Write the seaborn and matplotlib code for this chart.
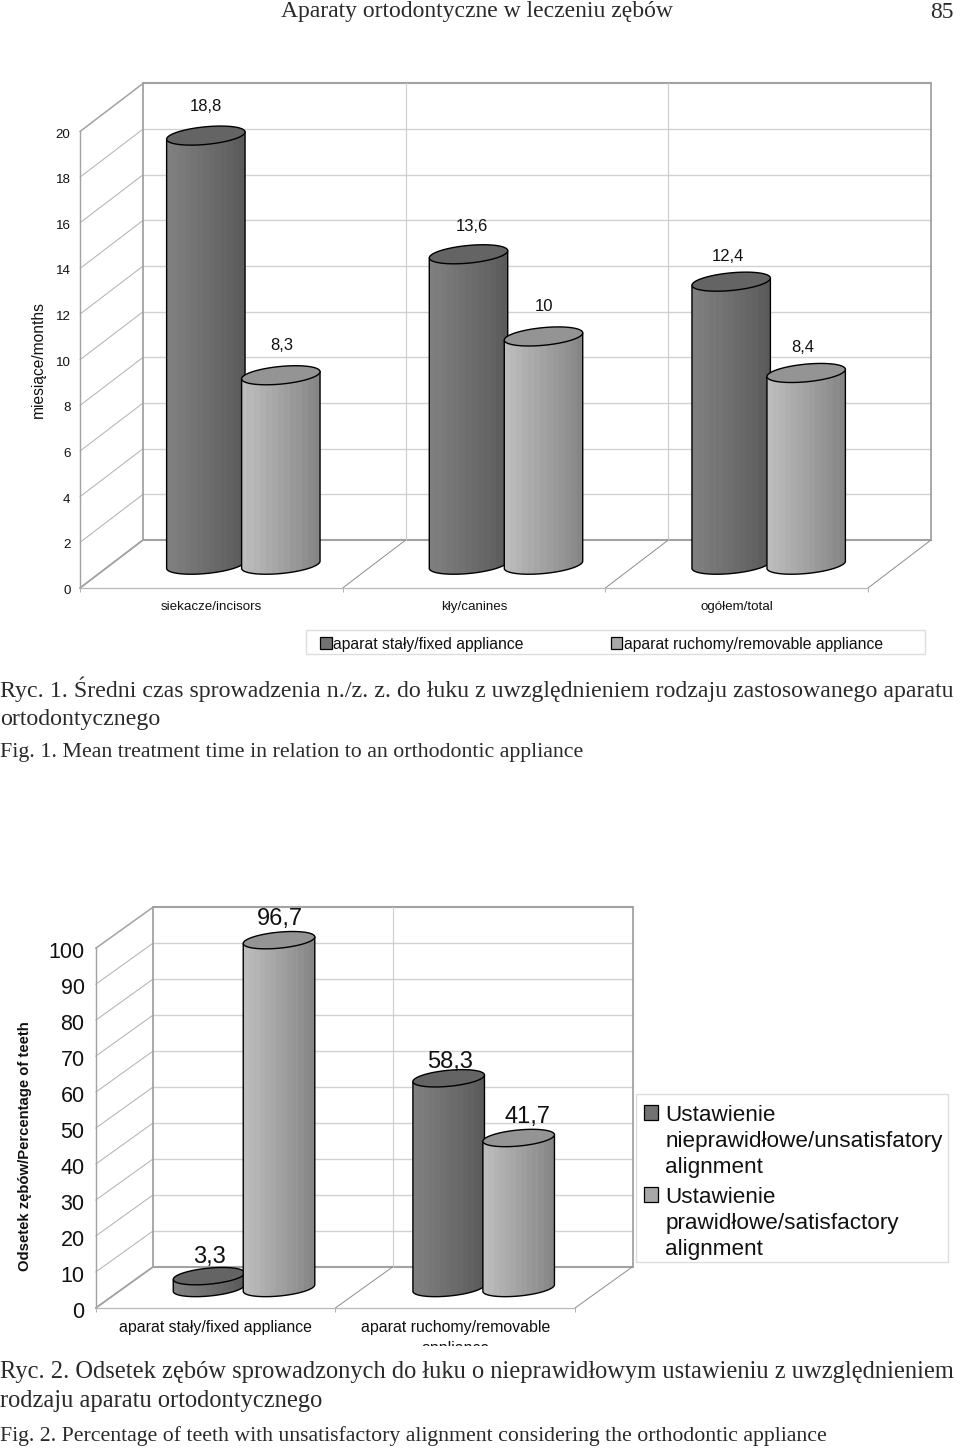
import numpy as np
import pandas as pd
import seaborn as sns
import matplotlib
matplotlib.use("Agg")
import matplotlib.pyplot as plt
from matplotlib.patches import Patch, PathPatch, Rectangle, Polygon
from matplotlib.path import Path
from matplotlib.transforms import Bbox, ScaledTranslation

# ---- data ----
categories_1 = ["siekacze/incisors", "kły/canines", "ogółem/total"]
fixed_months = [18.8, 13.6, 12.4]
removable_months = [8.3, 10, 8.4]
series_1 = ["aparat stały/fixed appliance", "aparat ruchomy/removable appliance"]
yticks_1 = list(range(0, 21, 2))

categories_2 = ["aparat stały/fixed appliance", "aparat ruchomy/removable\nappliance"]
unsatisfactory_pct = [3.3, 58.3]
satisfactory_pct = [96.7, 41.7]
series_2 = ["Ustawienie\nnieprawidłowe/unsatisfatory\nalignment",
            "Ustawienie\nprawidłowe/satisfactory\nalignment"]
yticks_2 = list(range(0, 101, 10))

W, H = 960, 1448
SANS = "Liberation Sans"
SERIF = "Liberation Serif"
DARK, LIGHT = "#727272", "#a8a8a8"

sns.set_theme(style="white", rc={"font.family": SANS})
fig = plt.figure(figsize=(W / 100, H / 100), dpi=100, facecolor="white")

page = fig.add_axes([0, 0, 1, 1], zorder=0)
page.set_xlim(0, W)
page.set_ylim(H, 0)
page.axis("off")


def px_axes(l, r, t, b, z):
    ax = fig.add_axes([l / W, 1 - b / H, (r - l) / W, (b - t) / H], zorder=z)
    ax.patch.set_alpha(0)
    return ax


def ellipse_pts(xc, yc, a, b, tilt, sx, sy, t):
    c, s = np.cos(tilt), np.sin(tilt)
    px = a * np.cos(t) * c - b * np.sin(t) * s
    py = a * np.cos(t) * s + b * np.sin(t) * c
    return np.c_[xc + px / sx, yc + py / sy]


def chart(cats, s1, s2, names, yticks, l, r, t, b, dx, dy, shx, shy, spacing, barw,
          ell_b, tick_fs, cat_fs, cat_pad, val_fs, val_off, ylabel, yl_fs, yl_weight, yl_x, yl_y, tick_pad):
    n = len(cats)
    ymax = yticks[-1]
    sx = (r - l) / n
    sy = (b - t) / ymax
    front = px_axes(l, r, t, b, 1)
    front.set_xlim(-0.5, n - 0.5)
    front.set_ylim(0, ymax)
    dxu, dyu = dx / sx, dy / sy
    frame = "#a2a2a2"
    x0, x1 = -0.5, n - 0.5
    kw = dict(clip_on=False, solid_capstyle="round")
    for v in yticks:
        heavy = v in (yticks[0], yticks[-1])
        front.plot([x0, x0 + dxu], [v, v + dyu], color=frame if heavy else "#b4b4b4",
                   lw=1.1 if heavy else 0.75, **kw)
        front.plot([x0 + dxu, x1 + dxu], [v + dyu, v + dyu], color=frame if heavy else "#d2d2d2",
                   lw=1.5 if heavy else 1.0, zorder=1.5 if heavy else 1, **kw)
    for k in range(n + 1):
        e = k - 0.5
        edge = k in (0, n)
        front.plot([e + dxu, e + dxu], [dyu, ymax + dyu], color=frame if edge else "#cccccc",
                   lw=1.3 if edge else 0.8, **kw)
        front.plot([e, e + dxu], [0, dyu], color="#8c8c8c" if not k == 0 else frame,
                   lw=0.7 if not k == 0 else 1.1, **kw)
    for side in ("top", "right"):
        front.spines[side].set_visible(False)
    front.spines["left"].set_color(frame)
    front.spines["left"].set_linewidth(1.0)
    front.spines["bottom"].set_color("#b8b8b8")
    front.spines["bottom"].set_linewidth(0.9)
    front.set_yticks(yticks)
    front.set_yticklabels([str(v) for v in yticks], fontsize=tick_fs, color="#111111")
    front.tick_params(axis="y", length=0, pad=tick_pad)
    nudge = ScaledTranslation(0, -1.5 / 100, fig.dpi_scale_trans)
    for lab in front.get_yticklabels():
        lab.set_transform(lab.get_transform() + nudge)
    front.set_xticks(range(n))
    front.set_xticklabels(cats, fontsize=cat_fs, color="#111111", va="top", linespacing=1.5)
    front.set_xticks(np.arange(n + 1) - 0.5, minor=True)
    front.tick_params(axis="x", which="minor", length=3, width=0.7, color="#b0b0b0", bottom=True)
    front.tick_params(axis="x", which="major", length=0, pad=cat_pad)
    front.set_ylabel(ylabel, fontsize=yl_fs, fontweight=yl_weight, color="#111111")
    front.yaxis.set_label_coords((yl_x - l) / (r - l), (b - yl_y) / (b - t))

    bars = px_axes(l + shx, r + shx, t - shy, b - shy, 2)
    df = pd.DataFrame({"cat": list(cats) * 2, "value": list(s1) + list(s2),
                       "series": [names[0]] * n + [names[1]] * n})
    sns.barplot(data=df, x="cat", y="value", hue="series", order=cats, hue_order=names,
                palette=[DARK, LIGHT], width=2 * spacing, saturation=1, legend=False, ax=bars)
    bars.set_xlim(-0.5, n - 0.5)
    bars.set_ylim(0, ymax)
    bars.axis("off")

    a = barw * sx / 2
    tilt = np.radians(5.5)
    stops_u = [0, 0.4, 0.8, 1]
    stops_f = [1.13, 1.0, 0.86, 0.78]
    for i, p in enumerate(list(bars.patches)):
        xc = p.get_x() + p.get_width() / 2
        h = p.get_height()
        hw = barw / 2
        p.set_x(xc - hw)
        p.set_width(barw)
        base = matplotlib.colors.to_rgb(p.get_facecolor())[0]
        z = 3 + i
        p.set_zorder(z)
        p.set_edgecolor("none")
        lower = ellipse_pts(xc, 0, a, ell_b, tilt, sx, sy, np.linspace(np.pi, 2 * np.pi, 50))
        c, s = np.cos(tilt), np.sin(tilt)
        top_right = [xc + a * c / sx, h + a * s / sy]
        top_left = [xc - a * c / sx, h - a * s / sy]
        verts = np.vstack([[top_left], lower, [top_right], [top_left]])
        outline = PathPatch(Path(verts), facecolor="none", edgecolor="black", lw=1.0,
                            zorder=z + 0.3, clip_on=False)
        bars.add_patch(outline)
        nb = 13
        edges = np.linspace(xc - hw, xc + hw, nb + 1)
        u = (np.arange(nb) + 0.5) / nb
        vals = np.clip(base * np.interp(u, stops_u, stops_f), 0, 1)
        mesh = bars.pcolormesh(edges, [-ymax * 0.1, h + ymax * 0.1], vals[None, :], cmap="gray",
                               vmin=0, vmax=1, zorder=z + 0.1, linewidth=0, antialiased=False)
        mesh.set_clip_path(outline)
        mesh.set_clip_box(fig.bbox)
        p.set_clip_path(outline)
        p.set_clip_box(fig.bbox)
        cap = ellipse_pts(xc, h, a, ell_b, tilt, sx, sy, np.linspace(0, 2 * np.pi, 80))
        bars.add_patch(Polygon(cap, closed=True, facecolor=str(round(base * 0.88, 3)),
                               edgecolor="black", lw=1.0, zorder=z + 0.4, clip_on=False))
        off = val_off[i]
        label = f"{h:g}".replace(".", ",")
        bars.annotate(label, (xc, h), xytext=(off[0] * 0.72, off[1] * 0.72),
                      textcoords="offset points", ha="center", va="center",
                      fontsize=val_fs, color="#111111", zorder=50, annotation_clip=False)
    bars.set_xlim(-0.5, n - 0.5)
    bars.set_ylim(0, ymax)
    return front, bars


chart(categories_1, fixed_months, removable_months, series_1, yticks_1,
      80, 868, 131.5, 588, 63, 48, 32, 23.3, 0.2855, 0.30, 8.8,
      9.6, 9.6, 9.6, 12,
      [(0, 29), (3.5, 28), (-3.5, 25.5), (1, 30), (1, 30), (-3, 25)],
      "miesiące/months", 11.2, "normal", 46, 360, 6.8)

front2, bars2 = chart(categories_2, unsatisfactory_pct, satisfactory_pct, series_2, yticks_2,
      95.7, 575, 948.3, 1308, 57.6, 41.3, 28.5, 20, 0.292, 0.30, 8,
      15.5, 11.4, 8.8, 17,
      [(0, 19), (1.5, 16), (1, 21), (9, 21)],
      "Odsetek zębów/Percentage of teeth", 10.7, "bold", 32.5, 1146, 8)
# the long category label is cut off by the chart's own frame in the original
clip = Bbox([[0, H - 1346], [W, H - 1000]])
for lab in front2.get_xticklabels():
    lab.set_clip_box(clip)
    lab.set_clip_on(True)


def legend_box(handles_labels, anchor, box, fs, ncol, columnspacing, labelspacing, hsize, hpad, linesp):
    page.add_patch(Rectangle((box[0], box[1]), box[2] - box[0], box[3] - box[1],
                             facecolor="white", edgecolor="#dddddd", lw=1.0, zorder=1))
    handles = [Patch(facecolor=c, edgecolor="black", lw=0.9) for c in (DARK, LIGHT)]
    leg = page.legend(handles, handles_labels, loc="upper left", bbox_to_anchor=anchor,
                      bbox_transform=page.transData, frameon=False, fontsize=fs, ncol=ncol,
                      borderaxespad=0, borderpad=0, handlelength=hsize, handleheight=hsize,
                      handletextpad=hpad, columnspacing=columnspacing, labelspacing=labelspacing,
                      labelcolor="#111111")
    for txt in leg.get_texts():
        txt.set_linespacing(linesp)
    for column in leg._legend_handle_box.get_children():
        for row in column.get_children():
            row.align = "top"
    page.legend_ = None
    page.add_artist(leg)
    return leg


legend_box(series_1, (320, 637), (306, 630, 925, 654), 11.35, 2, 5.5, 0.3, 0.75, 0.1, 1.2)
legend_box(series_2, (644, 1105), (636, 1094, 948, 1262), 16.2, 1, 1, 0.42, 0.62, 0.32, 1.3)

TXT = "#2a2a2a"
page_texts = [
    ("Aparaty ortodontyczne w leczeniu zębów", 281, 12, 17.0),
    ("85", 930, 12, 17.0),
    ("Ryc. 1. Średni czas sprowadzenia n./z. z. do łuku z uwzględnieniem rodzaju zastosowanego aparatu", 0, 689, 17.2),
    ("ortodontycznego", 0, 719, 17.2),
    ("Fig. 1. Mean treatment time in relation to an orthodontic appliance", 0, 752, 15.75),
    ("Ryc. 2. Odsetek zębów sprowadzonych do łuku o nieprawidłowym ustawieniu z uwzględnieniem", 0, 1372, 17.65),
    ("rodzaju aparatu ortodontycznego", 0, 1401, 17.65),
    ("Fig. 2. Percentage of teeth with unsatisfactory alignment considering the orthodontic appliance", 0, 1436, 15.7),
]
for s, x, y, fs in page_texts:
    page.text(x, y, s, family=SERIF, fontsize=fs, color=TXT, ha="left", va="center")

fig.savefig("out.png", dpi=100, facecolor="white")
